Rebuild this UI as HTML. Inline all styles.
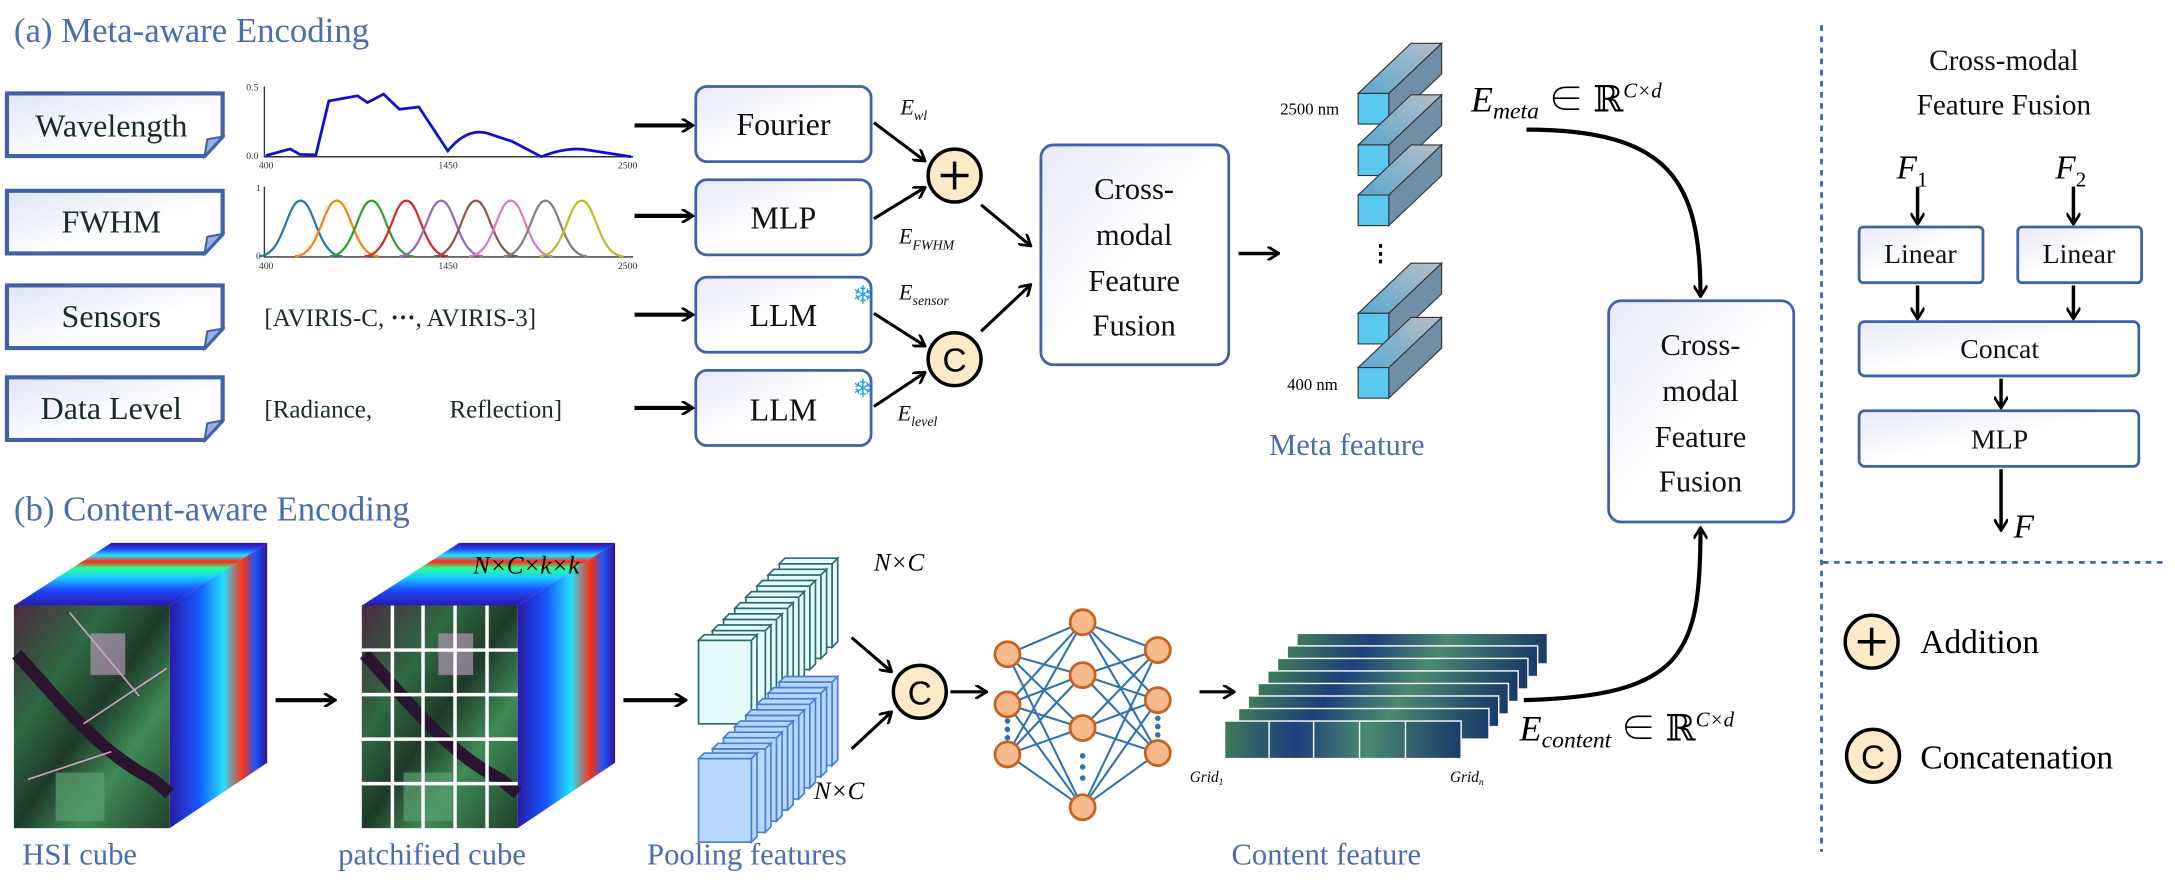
<!DOCTYPE html>
<html><head><meta charset="utf-8"><style>
html,body{margin:0;padding:0;background:#fff;}
svg{display:block;font-family:"Liberation Serif","Noto Serif CJK SC","DejaVu Serif",serif;}
svg text{font-family:"Liberation Serif","Noto Serif CJK SC","DejaVu Serif",serif;}
svg text.ss{font-family:"Liberation Sans","DejaVu Sans",sans-serif;}
</style></head><body>
<svg width="2175" height="891" viewBox="0 0 1563 640" xmlns="http://www.w3.org/2000/svg">
<defs>
<linearGradient id="bx" x1="0" y1="0" x2="1" y2="1"><stop offset="0" stop-color="#e6eaf6"/><stop offset="0.5" stop-color="#ffffff"/><stop offset="1" stop-color="#ffffff"/></linearGradient>
<linearGradient id="lbl" x1="0" y1="0" x2="1" y2="1"><stop offset="0" stop-color="#dfe5f5"/><stop offset="0.6" stop-color="#ffffff"/></linearGradient>
<marker id="ah" markerWidth="10" markerHeight="10" refX="8" refY="5" orient="auto" markerUnits="userSpaceOnUse"><path d="M1,0 L9,5 L1,10" fill="none" stroke="#000" stroke-width="2"/></marker>
<linearGradient id="rain" x1="0" y1="1" x2="0" y2="0"><stop offset="0" stop-color="#2a1aa8"/><stop offset="0.25" stop-color="#1b4cff"/><stop offset="0.45" stop-color="#18d0ff"/><stop offset="0.6" stop-color="#2aff90"/><stop offset="0.7" stop-color="#ff2a10"/><stop offset="0.8" stop-color="#29e0ff"/><stop offset="0.9" stop-color="#1b4cff"/><stop offset="1" stop-color="#3a0e90"/></linearGradient>
<linearGradient id="rainv" x1="0" y1="0" x2="1" y2="0"><stop offset="0" stop-color="#2a1aa8"/><stop offset="0.3" stop-color="#1858ff"/><stop offset="0.55" stop-color="#22e0ff"/><stop offset="0.75" stop-color="#ff3010"/><stop offset="0.88" stop-color="#1858ff"/><stop offset="1" stop-color="#3a0e90"/></linearGradient>
<linearGradient id="land" x1="0" y1="0" x2="1" y2="1"><stop offset="0" stop-color="#4a2a40"/><stop offset="0.3" stop-color="#2e6a42"/><stop offset="0.5" stop-color="#1e3a2a"/><stop offset="0.7" stop-color="#3f8a55"/><stop offset="1" stop-color="#20402c"/></linearGradient>
<linearGradient id="cf" x1="0" y1="0" x2="1" y2="0"><stop offset="0" stop-color="#3e7a5a"/><stop offset="0.3" stop-color="#1c3f7a"/><stop offset="0.6" stop-color="#4a8a70"/><stop offset="1" stop-color="#1a3a6a"/></linearGradient>
<linearGradient id="mc" x1="0" y1="1" x2="1" y2="0"><stop offset="0" stop-color="#5aa8d0"/><stop offset="1" stop-color="#b8bec6"/></linearGradient>
</defs>

<text x="10" y="30" font-size="25" fill="#4a6db0">(a) Meta-aware Encoding</text>
<text x="10" y="374" font-size="25" fill="#4a6db0">(b) Content-aware Encoding</text>

<g stroke="#3f62a8" stroke-width="3" fill="url(#lbl)">
<path d="M5,67 H160 V98 L147,112 H5 Z"/>
<path d="M5,137 H160 V168 L147,182 H5 Z"/>
<path d="M5,205 H160 V236 L147,250 H5 Z"/>
<path d="M5,271 H160 V302 L147,316 H5 Z"/>
</g>
<g fill="#9aaee0" stroke="#3f62a8" stroke-width="1.5">
<path d="M147,112 L149,100 L160,98 Z"/><path d="M147,182 L149,170 L160,168 Z"/><path d="M147,250 L149,238 L160,236 Z"/><path d="M147,316 L149,304 L160,302 Z"/>
</g>
<g font-size="23" fill="#1a2a2a" text-anchor="middle">
<text x="80" y="98">Wavelength</text><text x="80" y="167">FWHM</text><text x="80" y="235">Sensors</text><text x="80" y="301">Data Level</text>
</g>

<g stroke="#333" stroke-width="1" fill="none"><path d="M190,62 V112.5 H455"/><path d="M190,134 V184.5 H455"/></g>
<g font-size="7" fill="#333">
<text x="177" y="65">0.5</text><text x="177" y="114">0.0</text>
<text x="186" y="121">400</text><text x="315" y="121">1450</text><text x="444" y="121">2500</text>
<text x="184" y="137">1</text><text x="184" y="186">0</text>
<text x="186" y="193">400</text><text x="315" y="193">1450</text><text x="444" y="193">2500</text>
</g>
<path d="M191,111.7 L208.5,106.9 L215.4,110.8 L227,111.2 L236.3,72.4 L257,68.7 L264,73.6 L275.6,67.5 L287,78.4 L301,76.7 L321.8,108.3 Q335,92 349.6,95.4 L368,101.5 L389,112.5 Q405,106 419,107.1 L453.6,112.5" fill="none" stroke="#1010d0" stroke-width="2"/>
<g fill="none" stroke-width="1.6">
<path d="M186,184 C204,184 206,144 216,144 C226,144 228,184 246,184" stroke="#1f77b4"/>
<path d="M212,184 C230,184 232,144 242,144 C252,144 254,184 272,184" stroke="#ff7f0e"/>
<path d="M237,184 C255,184 257,144 267,144 C277,144 279,184 297,184" stroke="#2ca02c"/>
<path d="M262,184 C280,184 282,144 292,144 C302,144 304,184 322,184" stroke="#d62728"/>
<path d="M287,184 C305,184 307,144 317,144 C327,144 329,184 347,184" stroke="#9467bd"/>
<path d="M312,184 C330,184 332,144 342,144 C352,144 354,184 372,184" stroke="#8c564b"/>
<path d="M337,184 C355,184 357,144 367,144 C377,144 379,184 397,184" stroke="#e377c2"/>
<path d="M362,184 C380,184 382,144 392,144 C402,144 404,184 422,184" stroke="#7f7f7f"/>
<path d="M388,184 C406,184 408,144 418,144 C428,144 430,184 448,184" stroke="#bcbd22"/>
</g>

<g font-size="18" fill="#1a2a2a">
<text x="190" y="234">[AVIRIS-C,  <tspan font-weight="bold">···</tspan>, AVIRIS-3]</text>
<text x="190" y="300">[Radiance,</text><text x="323" y="300">Reflection]</text>
</g>

<g stroke="#000" stroke-width="3" marker-end="url(#ah)">
<line x1="456" y1="90" x2="497" y2="90"/><line x1="456" y1="155" x2="497" y2="155"/>
<line x1="456" y1="226" x2="497" y2="226"/><line x1="456" y1="293" x2="497" y2="293"/>
</g>
<g stroke="#3f62a8" stroke-width="2" fill="url(#bx)">
<rect x="500" y="62" width="126" height="54" rx="8"/>
<rect x="500" y="129" width="126" height="54" rx="8"/>
<rect x="500" y="199" width="126" height="54" rx="8"/>
<rect x="500" y="266" width="126" height="54" rx="8"/>
</g>
<g font-size="23" fill="#111" text-anchor="middle">
<text x="563" y="97">Fourier</text><text x="563" y="164">MLP</text><text x="563" y="234">LLM</text><text x="563" y="302">LLM</text>
</g>
<text class="ss" x="620" y="218" font-size="18" fill="#29a8e0" text-anchor="middle">❄</text>
<text class="ss" x="620" y="285" font-size="18" fill="#29a8e0" text-anchor="middle">❄</text>

<g font-style="italic" fill="#111">
<text x="647" y="82" font-size="16">E<tspan font-size="10" dy="4">wl</tspan></text>
<text x="646" y="175" font-size="16">E<tspan font-size="10" dy="4">FWHM</tspan></text>
<text x="646" y="215" font-size="16">E<tspan font-size="10" dy="4">sensor</tspan></text>
<text x="645" y="302" font-size="16">E<tspan font-size="10" dy="4">level</tspan></text>
</g>
<g stroke="#000" stroke-width="2.2" marker-end="url(#ah)">
<line x1="628" y1="88" x2="664" y2="115"/><line x1="628" y1="157" x2="664" y2="135"/>
<line x1="628" y1="225" x2="664" y2="248"/><line x1="628" y1="292" x2="664" y2="268"/>
<line x1="705" y1="147" x2="740" y2="176"/><line x1="705" y1="238" x2="740" y2="205"/>
</g>
<circle cx="686" cy="126" r="19" fill="#fdebc8" stroke="#000" stroke-width="2.5"/>
<path d="M676,126 H696 M686,116 V136" stroke="#000" stroke-width="2.5"/>
<circle cx="686" cy="258" r="19" fill="#fdebc8" stroke="#000" stroke-width="2.5"/>
<text class="ss" x="686" y="267" font-size="24" text-anchor="middle">C</text>

<rect x="748" y="104" width="135" height="158" rx="9" fill="url(#bx)" stroke="#3f62a8" stroke-width="2"/>
<g font-size="22" fill="#111" text-anchor="middle">
<text x="815" y="143">Cross-</text><text x="815" y="176">modal</text><text x="815" y="209">Feature</text><text x="815" y="241">Fusion</text>
</g>
<line x1="890" y1="182" x2="918" y2="182" stroke="#000" stroke-width="2.5" marker-end="url(#ah)"/>

<g stroke="#333" stroke-width="0.8">
<g><path d="M998,67 L1036,31 V53 L998,89 Z" fill="#6f8fa6"/><path d="M976,67 L1014,31 H1036 L998,67 Z" fill="url(#mc)"/><rect x="976" y="67" width="22" height="22" fill="#5bc8ef"/></g>
<g transform="translate(0,37)"><path d="M998,67 L1036,31 V53 L998,89 Z" fill="#6f8fa6"/><path d="M976,67 L1014,31 H1036 L998,67 Z" fill="url(#mc)"/><rect x="976" y="67" width="22" height="22" fill="#5bc8ef"/></g>
<g transform="translate(0,73)"><path d="M998,67 L1036,31 V53 L998,89 Z" fill="#6f8fa6"/><path d="M976,67 L1014,31 H1036 L998,67 Z" fill="url(#mc)"/><rect x="976" y="67" width="22" height="22" fill="#5bc8ef"/></g>
<g transform="translate(0,158)"><path d="M998,67 L1036,31 V53 L998,89 Z" fill="#6f8fa6"/><path d="M976,67 L1014,31 H1036 L998,67 Z" fill="url(#mc)"/><rect x="976" y="67" width="22" height="22" fill="#5bc8ef"/></g>
<g transform="translate(0,197)"><path d="M998,67 L1036,31 V53 L998,89 Z" fill="#6f8fa6"/><path d="M976,67 L1014,31 H1036 L998,67 Z" fill="url(#mc)"/><rect x="976" y="67" width="22" height="22" fill="#5bc8ef"/></g>
</g>
<text x="984" y="187" font-size="16" font-weight="bold">⋮</text>
<text x="920" y="82" font-size="12">2500 nm</text>
<text x="925" y="280" font-size="12">400 nm</text>
<text x="912" y="327" font-size="22" fill="#4a6db0">Meta feature</text>
<text x="1057" y="80" font-size="26" font-style="italic">E<tspan font-size="17" dy="5">meta</tspan><tspan dy="-5" font-style="normal"> ∈ ℝ</tspan><tspan font-size="15" dy="-10">C×d</tspan></text>

<path d="M1097,93 C1200,93 1222,130 1222,212" fill="none" stroke="#000" stroke-width="3" marker-end="url(#ah)"/>
<path d="M1095,503 C1210,500 1222,470 1222,380" fill="none" stroke="#000" stroke-width="3" marker-end="url(#ah)"/>
<rect x="1156" y="216" width="133" height="159" rx="9" fill="url(#bx)" stroke="#3f62a8" stroke-width="2"/>
<g font-size="22" fill="#111" text-anchor="middle">
<text x="1222" y="255">Cross-</text><text x="1222" y="288">modal</text><text x="1222" y="321">Feature</text><text x="1222" y="353">Fusion</text>
</g>
<text x="1092" y="532" font-size="26" font-style="italic">E<tspan font-size="17" dy="5">content</tspan><tspan dy="-5" font-style="normal"> ∈ ℝ</tspan><tspan font-size="15" dy="-10">C×d</tspan></text>

<line x1="1309" y1="18" x2="1309" y2="612" stroke="#3f62a8" stroke-width="2" stroke-dasharray="4,4"/>
<line x1="1310" y1="404" x2="1555" y2="404" stroke="#3f62a8" stroke-width="2" stroke-dasharray="4,4"/>
<g font-size="21" text-anchor="middle" fill="#111"><text x="1440" y="50">Cross-modal</text><text x="1440" y="82">Feature Fusion</text></g>
<text x="1363" y="128" font-size="24" font-style="italic">F<tspan font-size="15" dy="6" font-style="normal">1</tspan></text>
<text x="1477" y="128" font-size="24" font-style="italic">F<tspan font-size="15" dy="6" font-style="normal">2</tspan></text>
<g stroke="#000" stroke-width="2.5" marker-end="url(#ah)">
<line x1="1378" y1="134" x2="1378" y2="160"/><line x1="1490" y1="134" x2="1490" y2="160"/>
<line x1="1378" y1="205" x2="1378" y2="228"/><line x1="1490" y1="205" x2="1490" y2="228"/>
<line x1="1438" y1="272" x2="1438" y2="292"/><line x1="1438" y1="337" x2="1438" y2="380"/>
</g>
<g stroke="#3f62a8" stroke-width="2" fill="url(#bx)">
<rect x="1336" y="163" width="89" height="40" rx="3"/><rect x="1450" y="163" width="89" height="40" rx="3"/>
<rect x="1336" y="231" width="201" height="39" rx="4"/><rect x="1336" y="295" width="201" height="40" rx="4"/>
</g>
<g font-size="20" text-anchor="middle" fill="#111">
<text x="1380" y="189">Linear</text><text x="1494" y="189">Linear</text><text x="1437" y="257">Concat</text><text x="1437" y="322">MLP</text>
</g>
<text x="1447" y="386" font-size="24" font-style="italic">F</text>
<circle cx="1345" cy="461" r="19" fill="#fdebc8" stroke="#000" stroke-width="2.5"/>
<path d="M1335,461 H1355 M1345,451 V471" stroke="#000" stroke-width="2.5"/>
<text x="1380" y="469" font-size="24">Addition</text>
<circle cx="1346" cy="543" r="19" fill="#fdebc8" stroke="#000" stroke-width="2.5"/>
<text class="ss" x="1346" y="552" font-size="24" text-anchor="middle">C</text>
<text x="1380" y="552" font-size="24">Concatenation</text>

<g>
<path d="M10,435 L80,390 H192 L122,435 Z" fill="url(#rain)"/>
<path d="M122,435 L192,390 V548 L122,595 Z" fill="url(#rainv)"/>
<rect x="10" y="435" width="112" height="160" fill="url(#land)"/>
<path d="M12,470 C40,500 70,540 110,560 L122,570" stroke="#2a1530" stroke-width="9" fill="none"/>
<path d="M50,440 L100,500 M60,520 L120,480 M20,560 L80,540" stroke="#d0a0c0" stroke-width="1.2" fill="none"/>
<rect x="65" y="455" width="25" height="30" fill="#c9a0c8" opacity="0.6"/>
<rect x="40" y="555" width="35" height="35" fill="#5aa070" opacity="0.7"/>
</g>
<line x1="198" y1="503" x2="240" y2="503" stroke="#000" stroke-width="3" marker-end="url(#ah)"/>
<g>
<path d="M260,435 L330,390 H442 L372,435 Z" fill="url(#rain)"/>
<path d="M372,435 L442,390 V548 L372,595 Z" fill="url(#rainv)"/>
<rect x="260" y="435" width="112" height="160" fill="url(#land)"/>
<path d="M262,470 C290,500 320,540 360,560 L372,570" stroke="#2a1530" stroke-width="9" fill="none"/>
<rect x="315" y="455" width="25" height="30" fill="#c9a0c8" opacity="0.6"/>
<rect x="290" y="555" width="35" height="35" fill="#5aa070" opacity="0.7"/>
<g stroke="#fff" stroke-width="2.5"><path d="M282,435 V595 M304,435 V595 M327,435 V595 M350,435 V595 M260,467 H372 M260,499 H372 M260,531 H372 M260,563 H372"/></g>
</g>
<text x="340" y="412" font-size="18" font-style="italic">N×C×k×k</text>
<line x1="448" y1="503" x2="492" y2="503" stroke="#000" stroke-width="3" marker-end="url(#ah)"/>

<g stroke="#2f6a74" stroke-width="1.2" fill="#e4fbfb">
<g id="ws">
<rect x="560" y="405" width="38" height="60"/><path d="M560,405 l4,-4 h38 l-4,4 Z M598,405 l4,-4 v60 l-4,4 Z"/>
</g>
<use href="#ws" transform="translate(-8,8)"/><use href="#ws" transform="translate(-16,16)"/><use href="#ws" transform="translate(-24,24)"/>
<use href="#ws" transform="translate(-32,32)"/><use href="#ws" transform="translate(-40,40)"/><use href="#ws" transform="translate(-48,48)"/>
<use href="#ws" transform="translate(-58,55)"/>
</g>
<g stroke="#4a7ed0" stroke-width="1.2" fill="#b8d8ff">
<g id="bs">
<rect x="560" y="490" width="38" height="60"/><path d="M560,490 l4,-4 h38 l-4,4 Z M598,490 l4,-4 v60 l-4,4 Z"/>
</g>
<use href="#bs" transform="translate(-8,8)"/><use href="#bs" transform="translate(-16,16)"/><use href="#bs" transform="translate(-24,24)"/>
<use href="#bs" transform="translate(-32,32)"/><use href="#bs" transform="translate(-40,40)"/><use href="#bs" transform="translate(-48,48)"/>
<use href="#bs" transform="translate(-58,55)"/>
</g>
<text x="628" y="410" font-size="18" font-style="italic">N×C</text>
<text x="585" y="574" font-size="18" font-style="italic">N×C</text>
<g stroke="#000" stroke-width="2.2" marker-end="url(#ah)">
<line x1="612" y1="458" x2="640" y2="482"/><line x1="612" y1="538" x2="640" y2="512"/>
<line x1="683" y1="497" x2="708" y2="497"/><line x1="862" y1="497" x2="886" y2="497"/>
</g>
<circle cx="661" cy="497" r="19" fill="#fdebc8" stroke="#000" stroke-width="2.5"/>
<text class="ss" x="661" y="506" font-size="24" text-anchor="middle">C</text>

<g stroke="#2f72b0" stroke-width="1.5">
<path d="M724,470 L778,447 M724,470 L778,485 M724,470 L778,523 M724,470 L778,580 M724,506 L778,447 M724,506 L778,485 M724,506 L778,523 M724,506 L778,580 M724,542 L778,447 M724,542 L778,485 M724,542 L778,523 M724,542 L778,580"/>
<path d="M832,467 L778,447 M832,467 L778,485 M832,467 L778,523 M832,467 L778,580 M832,503 L778,447 M832,503 L778,485 M832,503 L778,523 M832,503 L778,580 M832,541 L778,447 M832,541 L778,485 M832,541 L778,523 M832,541 L778,580"/>
</g>
<g fill="#2f72b0"><circle cx="724" cy="518" r="2"/><circle cx="724" cy="524" r="2"/><circle cx="724" cy="530" r="2"/>
<circle cx="778" cy="543" r="2"/><circle cx="778" cy="551" r="2"/><circle cx="778" cy="559" r="2"/>
<circle cx="832" cy="516" r="2"/><circle cx="832" cy="522" r="2"/><circle cx="832" cy="528" r="2"/></g>
<g fill="#f7b98e" stroke="#c8621e" stroke-width="2">
<circle cx="724" cy="470" r="9"/><circle cx="724" cy="506" r="9"/><circle cx="724" cy="542" r="9"/>
<circle cx="778" cy="447" r="9"/><circle cx="778" cy="485" r="9"/><circle cx="778" cy="523" r="9"/><circle cx="778" cy="580" r="9"/>
<circle cx="832" cy="467" r="9"/><circle cx="832" cy="503" r="9"/><circle cx="832" cy="541" r="9"/>
</g>

<g stroke="#fff" stroke-width="1">
<rect x="932" y="455" width="180" height="22" fill="url(#cf)"/>
<rect x="925" y="464" width="180" height="22" fill="url(#cf)"/>
<rect x="918" y="473" width="180" height="22" fill="url(#cf)"/>
<rect x="911" y="482" width="180" height="22" fill="url(#cf)"/>
<rect x="904" y="491" width="180" height="22" fill="url(#cf)"/>
<rect x="897" y="500" width="180" height="22" fill="url(#cf)"/>
<rect x="890" y="509" width="180" height="22" fill="url(#cf)"/>
<rect x="880" y="518" width="170" height="27" fill="url(#cf)"/>
<path d="M912,518 V545 M944,518 V545 M977,518 V545 M1010,518 V545" />
</g>
<text x="855" y="562" font-size="11" font-style="italic">Grid<tspan font-size="7" dy="2">1</tspan></text>
<text x="1042" y="562" font-size="11" font-style="italic">Grid<tspan font-size="7" dy="2">n</tspan></text>

<g font-size="22" fill="#4a6db0">
<text x="16" y="621">HSI cube</text><text x="243" y="621">patchified cube</text><text x="465" y="621">Pooling features</text><text x="885" y="621">Content feature</text>
</g>
</svg>
</body></html>
